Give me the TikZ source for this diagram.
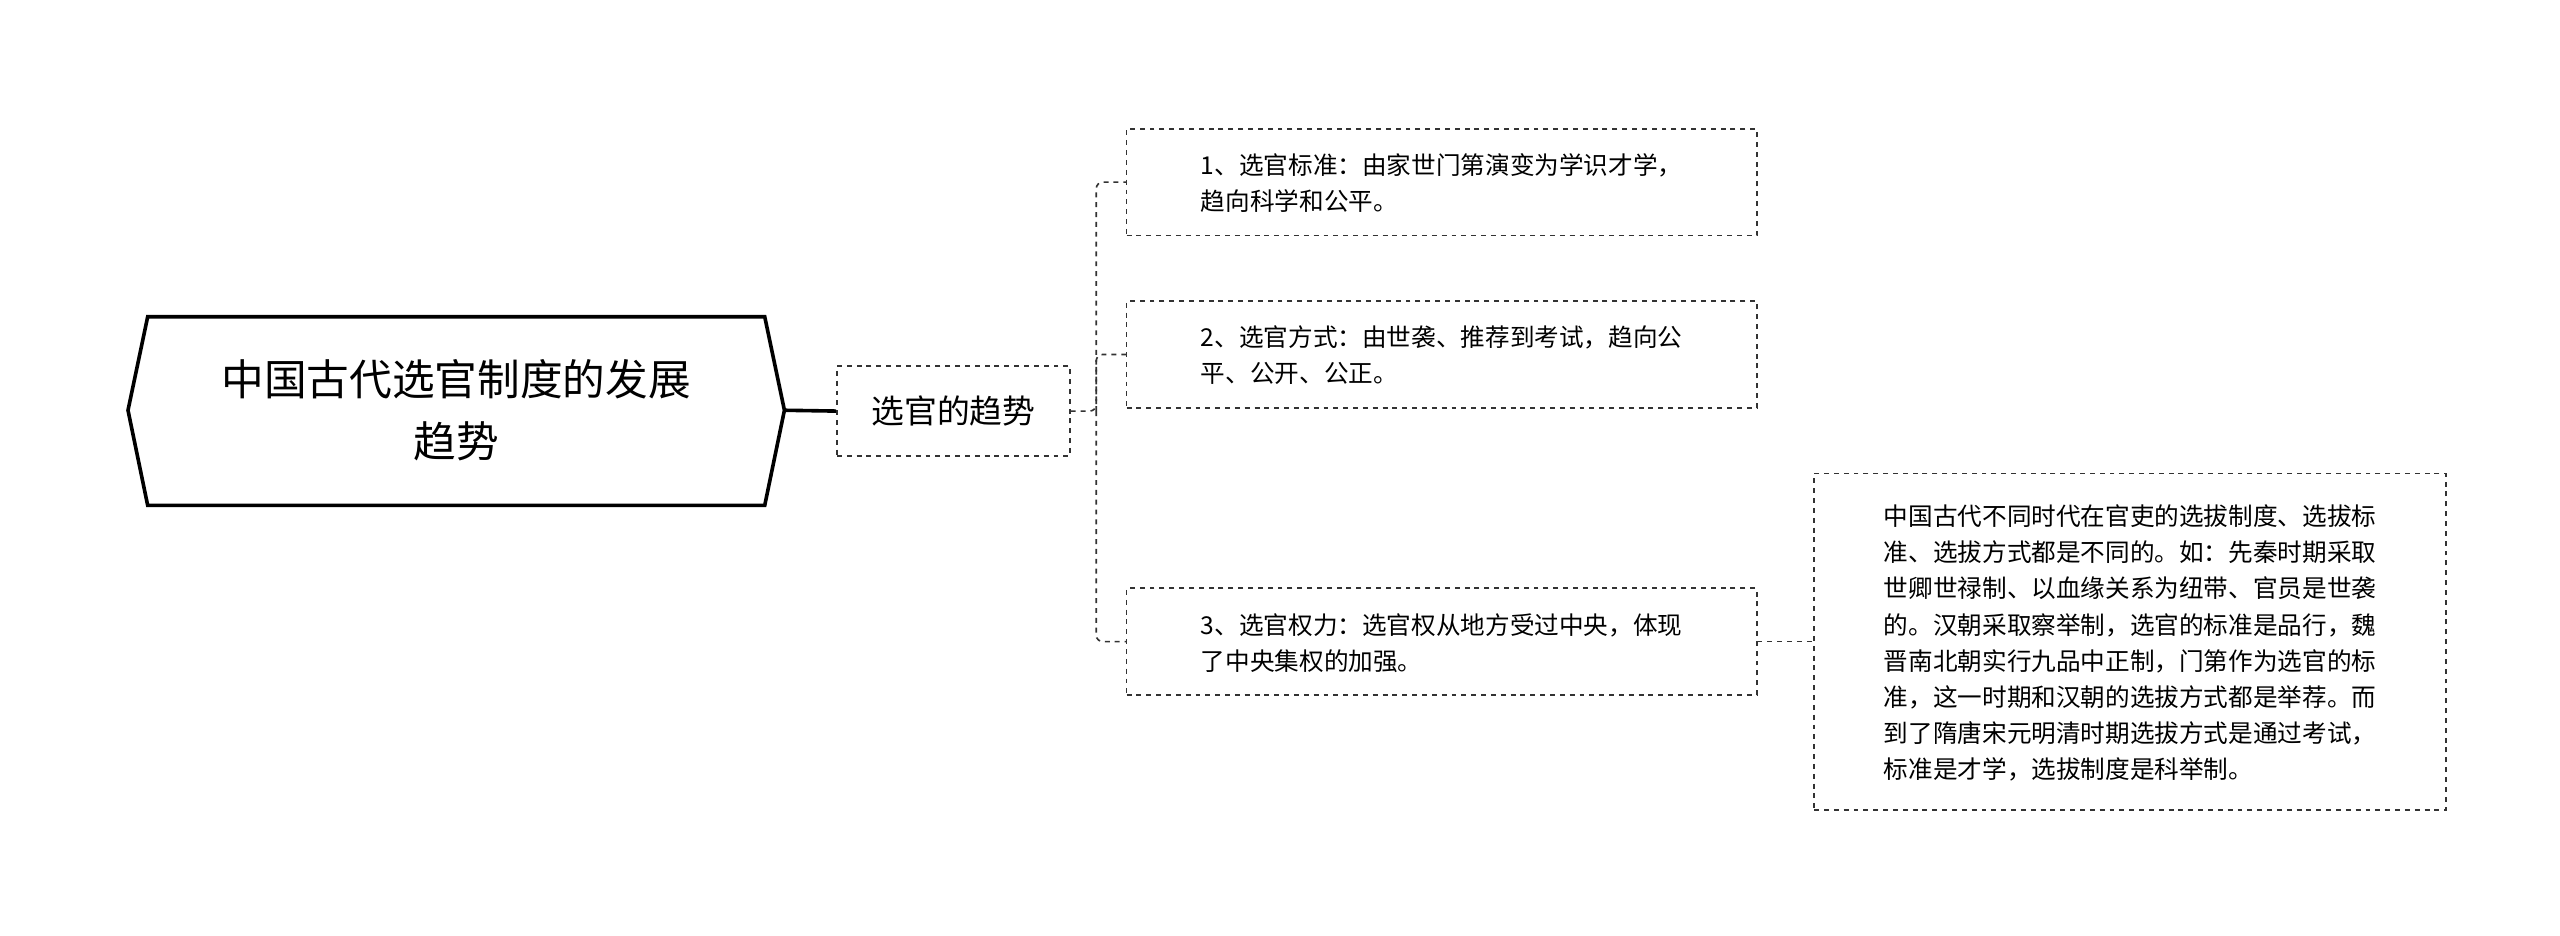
\documentclass[tikz,border=0pt]{standalone}
\usepackage{fontspec}
\setmainfont{Noto Sans CJK SC}
\begin{document}
\begin{tikzpicture}[x=1pt,y=-1pt,
  box/.style={draw=black!80,dashed,line width=1pt,anchor=north west,align=left,inner xsep=9pt,inner ysep=0pt,text depth=0pt,font=\fontsize{15}{22}\selectfont},
  link/.style={draw=black!80,dashed,line width=1pt,rounded corners=4pt}]
\useasboundingbox (0,0) rectangle (1560,570);
\draw[line width=2.2pt,fill=white] (90,193) -- (466,193) -- (478,250) -- (466,308) -- (90,308) -- (78,250) -- cycle;
\node (root) at (278,250) [align=center,font=\fontsize{26}{38}\selectfont] {中国古代选官制度的发展\\趋势};
\coordinate (rootE) at (478,250);
\node (mid) [draw=black!80,dashed,line width=1pt,minimum width=142,minimum height=55,font=\fontsize{20}{24}\selectfont] at (581,250.5) {选官的趋势};
\draw[line width=2.2pt] (rootE) -- (mid.west);
\node (a) [box,minimum width=384,minimum height=65] at (686,78) {1、选官标准：由家世门第演变为学识才学，\\趋向科学和公平。};
\node (b) [box,minimum width=384,minimum height=65] at (686,183) {2、选官方式：由世袭、推荐到考试，趋向公\\平、公开、公正。};
\node (c) [box,minimum width=384,minimum height=65] at (686,358) {3、选官权力：选官权从地方受过中央，体现\\了中央集权的加强。};
\node (d) [box,minimum width=385,minimum height=205,inner xsep=8pt] at (1105,288) {中国古代不同时代在官吏的选拔制度、选拔标\\准、选拔方式都是不同的。如：先秦时期采取\\世卿世禄制、以血缘关系为纽带、官员是世袭\\的。汉朝采取察举制，选官的标准是品行，魏\\晋南北朝实行九品中正制，门第作为选官的标\\准，这一时期和汉朝的选拔方式都是举荐。而\\到了隋唐宋元明清时期选拔方式是通过考试，\\标准是才学，选拔制度是科举制。};
\draw[link] (mid.east) -- (668,250.5) |- (a.west);
\draw[link] (668,250.5) |- (b.west);
\draw[link] (668,250.5) |- (c.west);
\draw[link] (c.east) -- (d.west);
\end{tikzpicture}
\end{document}
